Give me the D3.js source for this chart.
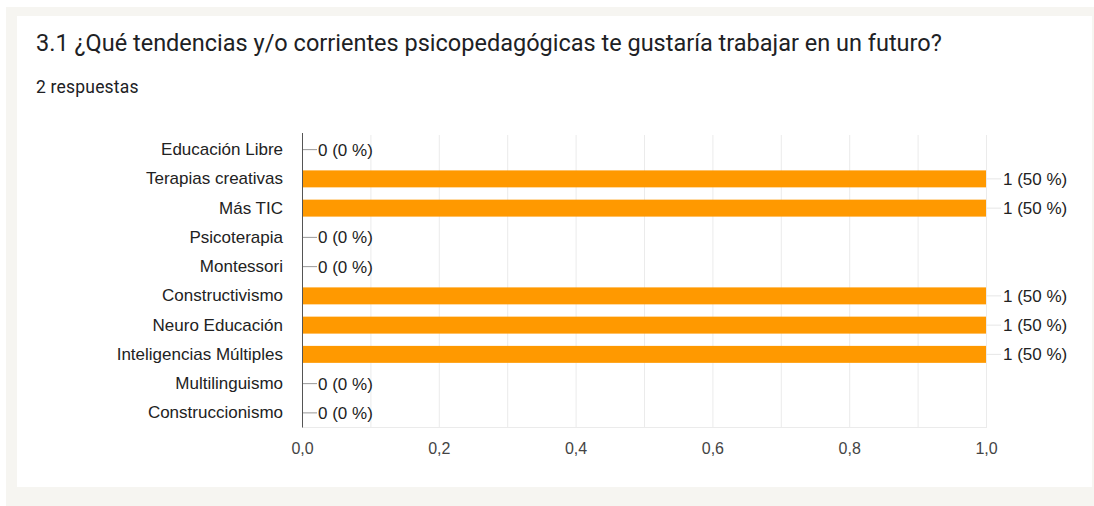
<!DOCTYPE html>
<html>
<head>
<meta charset="utf-8">
<script src="https://cdn.jsdelivr.net/npm/d3@7/dist/d3.min.js"></script>
<style>
  html, body { margin: 0; padding: 0; background: #ffffff; }
  svg { display: block; }
</style>
</head>
<body>
<svg id="chart" width="1094" height="506"></svg>
<script>
const title = "3.1 ¿Qué tendencias y/o corrientes psicopedagógicas te gustaría trabajar en un futuro?";
const subtitle = "2 respuestas";
const totalResponses = 2;
const categories = [
  "Educación Libre", "Terapias creativas", "Más TIC", "Psicoterapia", "Montessori",
  "Constructivismo", "Neuro Educación", "Inteligencias Múltiples", "Multilinguismo", "Construccionismo"
];
const values = [0, 1, 1, 0, 0, 1, 1, 1, 0, 0];
const tickValues = [0, 0.2, 0.4, 0.6, 0.8, 1.0];
const tickLabels = ["0,0", "0,2", "0,4", "0,6", "0,8", "1,0"];
const gridValues = [0.1, 0.2, 0.3, 0.4, 0.5, 0.6, 0.7, 0.8, 0.9, 1.0];

const svg = d3.select("#chart");

// background frame + card
svg.append("rect").attr("x", 6).attr("y", 7).attr("width", 1088).attr("height", 499).attr("fill", "#f6f5f1");
svg.append("rect").attr("x", 17).attr("y", 16).attr("width", 1075).attr("height", 471).attr("fill", "#ffffff");

svg.append("text").attr("x", 36).attr("y", 51)
  .attr("font-family", "Roboto, 'Noto Sans', sans-serif").attr("font-size", 23.5)
  .attr("fill", "#202124").text(title);
svg.append("text").attr("x", 36).attr("y", 93)
  .attr("font-family", "Roboto, 'Noto Sans', sans-serif").attr("font-size", 17.5)
  .attr("letter-spacing", 0.2)
  .attr("fill", "#202124").text(subtitle);

const plotLeft = 302, plotRight = 986, plotTop = 135, plotBottom = 427.5;
const x = d3.scaleLinear().domain([0, 1]).range([plotLeft, plotRight]);
const y = d3.scaleBand().domain(categories).range([plotTop, plotBottom]).paddingInner(0.42).paddingOuter(0.21);

const font = "'Liberation Sans', Arial, sans-serif";
const fs = 17;

// gridlines
svg.append("g").selectAll("line").data(gridValues).join("line")
  .attr("x1", d => x(d) + 0.5).attr("x2", d => x(d) + 0.5)
  .attr("y1", plotTop).attr("y2", plotBottom)
  .attr("stroke", "#ebebeb").attr("stroke-width", 1);
svg.append("line").attr("x1", plotLeft).attr("x2", plotRight + 1).attr("y1", plotBottom).attr("y2", plotBottom)
  .attr("stroke", "#ebebeb");

// bars
svg.append("g").selectAll("rect").data(values).join("rect")
  .attr("x", plotLeft).attr("y", (d, i) => y(categories[i]))
  .attr("width", d => x(d) - plotLeft).attr("height", y.bandwidth())
  .attr("fill", "#ff9900");

// annotation stems
svg.append("g").selectAll("line").data(values).join("line")
  .attr("x1", d => x(d)).attr("x2", d => x(d) + 15)
  .attr("y1", (d, i) => y(categories[i]) + y.bandwidth() / 2)
  .attr("y2", (d, i) => y(categories[i]) + y.bandwidth() / 2)
  .attr("stroke", d => d === 0 ? "#999999" : "#e6e6e6").attr("stroke-width", 1);

// value labels
svg.append("g").selectAll("text").data(values).join("text")
  .attr("x", d => x(d) + (d === 0 ? 16 : 17))
  .attr("y", (d, i) => y(categories[i]) + y.bandwidth() / 2)
  .attr("dy", "0.36em")
  .attr("font-family", font).attr("font-size", fs).attr("fill", "#222222")
  .text(d => `${d} (${Math.round(d / totalResponses * 100)} %)`);

// y axis
const yAxis = d3.axisLeft(y).tickSize(0).tickPadding(19);
const gy = svg.append("g").attr("transform", `translate(${plotLeft},0)`).call(yAxis);
gy.select(".domain").remove();
gy.selectAll("text").attr("font-family", font).attr("font-size", fs).attr("fill", "#222222");
svg.append("line").attr("x1", plotLeft + 0.5).attr("x2", plotLeft + 0.5).attr("y1", plotTop - 2).attr("y2", plotBottom)
  .attr("stroke", "#555555").attr("stroke-width", 1);

// x axis
const xAxis = d3.axisBottom(x).tickValues(tickValues).tickSize(0).tickPadding(15)
  .tickFormat((d, i) => tickLabels[i]);
const gx = svg.append("g").attr("transform", `translate(0,${plotBottom})`).call(xAxis);
gx.select(".domain").remove();
gx.selectAll("text").attr("font-family", font).attr("font-size", 16).attr("fill", "#444444");
</script>
</body>
</html>
